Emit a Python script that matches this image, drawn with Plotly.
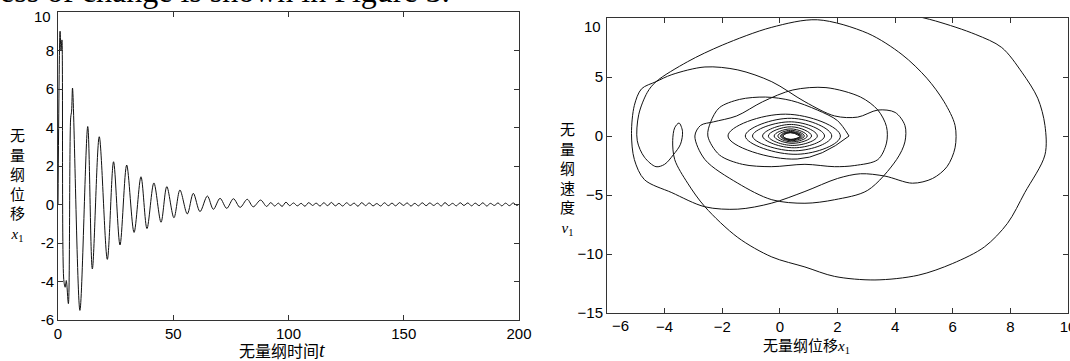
import plotly.graph_objects as go

# ---------------- data: left panel (time series of x1) ----------------
t_head = [0, 0.9, 1.3, 1.7, 2.5, 3.1, 3.6, 4.5, 5.5, 5.9,
          6.3, 9.5, 12.9, 14.9, 17.9, 21.4, 24.1, 26.9, 29.8, 33.0,
          36.0, 38.6, 41.6, 44.7, 47.2, 50.3, 52.9, 56.1, 58.7, 61.6,
          64.8, 67.4, 70.3, 73.2, 76.1, 79.0, 82.1, 84.7, 87.9, 90.5]
x_head = [0, 9.0, 8.0, 8.55, -3.9, -4.3, -3.95, -5.15, 4.5, 4.85,
          6.05, -5.5, 4.05, -3.35, 3.52, -2.85, 2.22, -2.1, 2.05, -1.45,
          1.44, -1.25, 1.12, -0.92, 0.93, -0.69, 0.75, -0.49, 0.58, -0.37,
          0.44, -0.25, 0.32, -0.2, 0.3, -0.15, 0.27, -0.12, 0.23, -0.1]
t_tail = [92.3, 94.0, 95.6, 97.2, 98.9, 100.5, 102.2, 103.8, 105.5, 107.1,
          108.8, 110.4, 112.0, 113.7, 115.3, 117.0, 118.6, 120.3, 121.9, 123.5,
          125.2, 126.8, 128.5, 130.1, 131.8, 133.4, 135.0, 136.7, 138.3, 140.0,
          141.6, 143.3, 144.9, 146.5, 148.2, 149.8, 151.5, 153.1, 154.8, 156.4,
          158.0, 159.7, 161.3, 163.0, 164.6, 166.3, 167.9, 169.5, 171.2, 172.8,
          174.5, 176.1, 177.8, 179.4, 181.0, 182.7, 184.3, 186.0, 187.6, 189.3,
          190.9, 192.5, 194.2, 195.8, 197.5, 199.1, 200.0]
x_tail = [0.10, -0.08, 0.07, -0.10, 0.12, -0.06, 0.08, -0.07, 0.06, -0.09,
          0.10, -0.05, 0.07, -0.08, 0.09, -0.06, 0.11, -0.07, 0.06, -0.08,
          0.09, -0.05, 0.07, -0.09, 0.10, -0.06, 0.08, -0.07, 0.05, -0.08,
          0.09, -0.06, 0.07, -0.07, 0.10, -0.05, 0.08, -0.08, 0.06, -0.07,
          0.09, -0.06, 0.08, -0.05, 0.07, -0.08, 0.10, -0.06, 0.06, -0.07,
          0.09, -0.05, 0.08, -0.07, 0.07, -0.06, 0.09, -0.08, 0.06, -0.05,
          0.08, -0.07, 0.07, -0.06, 0.08, -0.05, 0.02]

left_xticks = [0, 50, 100, 150, 200]
left_yticks = [-6, -4, -2, 0, 2, 4, 6, 8, 10]
left_yticktext = ["-6", "-4", "-2", "0", "2", "4", "6", "8", ""]   # "10" drawn below

# ---------------- data: right panel (phase portrait x1 - v1) ----------------
# large transient orbits
orbit_x = [4.3, 5.4, 6.8, 7.7, 8.4, 8.95, 9.2, 9.2, 8.5, 7.9,
           7.1, 6.0, 4.8, 3.3, 1.9, 0.87, -0.28, -1.46, -2.6, -3.2,
           -3.65, -3.72, -3.65, -3.5, -3.38, -3.45, -3.7, -4.0, -4.3, -4.7,
           -4.95, -4.9, -4.6, -4.3, -3.2, -2.0, -0.3, 1.3, 3.05, 4.24,
           5.1, 5.7, 6.08, 6.08, 5.8, 5.3, 4.6, 3.65, 2.8, 2.0,
           0.87, -0.3, -1.46, -2.6, -3.75, -4.7, -5.05, -5.15, -5.05, -4.8,
           -4.3, -3.75, -2.6, -1.46, -0.28, 0.87, 1.9, 2.7, 3.4, 4.0,
           4.34, 4.34, 4.05, 3.05, 1.9, 0.87, -0.28, -1.46, -2.6, -2.95,
           -2.75, -2.3, -1.5, -0.6, 0.45, 1.6, 2.8, 3.4, 3.7, 3.7,
           3.4, 2.6, 1.9, 0.87, -0.3, -1.3, -2.1, -2.5, -2.4, -2.1,
           -1.4, -0.5, 0.4, 1.3, 2.0, 2.4]
orbit_v = [10.4, 9.75, 8.6, 7.5, 5.4, 3.2, 0.9, -1.6, -4.8, -7.4,
           -9.4, -10.8, -11.8, -12.2, -11.9, -11.1, -10.25, -8.6, -6.0, -4.0,
           -2.0, -0.4, 0.7, 1.1, 0.4, -0.7, -1.6, -2.4, -2.6, -1.8,
           -0.4, 1.8, 3.7, 4.6, 6.3, 7.7, 9.2, 9.85, 8.7, 6.9,
           4.9, 2.9, 0.9, -1.0, -2.6, -3.6, -4.0, -3.4, -3.2, -3.6,
           -4.7, -5.7, -6.2, -6.0, -4.8, -3.7, -2.0, 0.2, 2.6, 4.0,
           4.6, 5.2, 5.85, 5.6, 4.6, 2.9, 1.7, 1.6, 2.2, 2.0,
           0.9, -0.5, -2.0, -4.6, -5.4, -5.7, -5.4, -4.0, -2.0, 0.0,
           0.9, 1.2, 1.7, 2.9, 3.9, 4.1, 3.3, 2.2, 0.8, -0.6,
           -2.0, -2.5, -2.6, -2.4, -2.6, -2.4, -1.6, 0.0, 1.2, 2.4,
           3.1, 3.3, 3.0, 2.2, 1.3, 0.0]
# inner spiral: right, bottom, left, top extremes of each turn
spiral_x = [2.4,
            0.6, -1.8, 0.2, 2.1,
            0.6, -1.2, 0.4, 1.8,
            0.55, -0.95, 0.4, 1.55,
            0.5, -0.6, 0.4, 1.3,
            0.45, -0.4, 0.4, 1.1,
            0.42, -0.2, 0.38, 0.95,
            0.4, -0.07, 0.37, 0.85,
            0.38, 0.02, 0.36, 0.78,
            0.37, 0.06, 0.36, 0.73,
            0.36, 0.1, 0.36, 0.7,
            0.36, 0.12, 0.36, 0.69]
spiral_v = [0.0,
            -1.95, 0.0, 1.85, 0.0,
            -1.55, 0.0, 1.5, 0.0,
            -1.25, 0.0, 1.2, 0.0,
            -1.0, 0.0, 0.98, 0.0,
            -0.8, 0.0, 0.78, 0.0,
            -0.62, 0.0, 0.6, 0.0,
            -0.5, 0.0, 0.48, 0.0,
            -0.4, 0.0, 0.38, 0.0,
            -0.34, 0.0, 0.33, 0.0,
            -0.3, 0.0, 0.29, 0.0,
            -0.28, 0.0, 0.28, 0.0]

right_xticks = [-6, -4, -2, 0, 2, 4, 6, 8, 10]
right_xticktext = ["", "\u22124", "\u22122", "0", "2", "4", "6", "8", "10"]  # "-6" drawn below
right_yticks = [-15, -10, -5, 0, 5, 10]
right_yticktext = ["\u221215", "\u221210", "\u22125", "0", "5", ""]          # "10" drawn below

# ---------------- figure ----------------
W, H = 1070, 361


def fx(p):
    return p / W


def fy(p):
    return 1 - p / H


LINE = dict(color="#111111", width=1, shape="spline", smoothing=0.9)
LINE_SP = dict(color="#111111", width=1, shape="spline", smoothing=1.3)
TICKFONT = dict(family="Liberation Sans, Arial, sans-serif", size=15, color="#000000")
CJK = "Noto Sans CJK SC"
SERIF = "Liberation Serif, Times New Roman, serif"

fig = go.Figure()
fig.add_trace(go.Scatter(x=t_head + t_tail, y=x_head + x_tail, mode="lines",
                         line=LINE, xaxis="x", yaxis="y", showlegend=False,
                         hoverinfo="skip"))
fig.add_trace(go.Scatter(x=orbit_x, y=orbit_v, mode="lines",
                         line=LINE, xaxis="x2", yaxis="y2", showlegend=False,
                         hoverinfo="skip"))
fig.add_trace(go.Scatter(x=spiral_x, y=spiral_v, mode="lines",
                         line=LINE_SP, xaxis="x2", yaxis="y2", showlegend=False,
                         hoverinfo="skip"))

axis_common = dict(showgrid=False, zeroline=False, showline=True, mirror="ticks",
                   linecolor="#333333", linewidth=1, ticks="inside", ticklen=5,
                   tickcolor="#333333", tickfont=TICKFONT, automargin=False,
                   ticklabeloverflow="allow")

fig.update_layout(
    template="none",
    width=W, height=H,
    margin=dict(l=0, r=0, t=0, b=0, pad=0, autoexpand=False),
    paper_bgcolor="white", plot_bgcolor="white",
    xaxis=dict(domain=[fx(58), fx(519)], range=[0, 200], tickvals=left_xticks,
               anchor="y", **axis_common),
    yaxis=dict(domain=[fy(320), fy(12)], range=[-6, 10], tickvals=left_yticks,
               ticktext=left_yticktext, anchor="x", **axis_common),
    xaxis2=dict(domain=[fx(607), fx(1068)], range=[-6, 10], tickvals=right_xticks,
                ticktext=right_xticktext, anchor="y2", **axis_common),
    yaxis2=dict(domain=[fy(313), fy(18)], range=[-15, 10], tickvals=right_yticks,
                ticktext=right_yticktext, anchor="x2", **axis_common),
)

xsub = "<span style=\"font-family:'Liberation Serif'\"><i>x</i><sub>1</sub></span>"
vsub = "<span style=\"font-family:'Liberation Serif'\"><i>v</i><sub>1</sub></span>"
tsym = "<span style=\"font-family:'Liberation Serif';font-size:20px\"><i>t</i></span>"

annotations = [
    dict(text="ess of change is shown in Figure 3.", x=fx(-2), y=fy(-9),
         xanchor="left", yanchor="middle",
         font=dict(family=SERIF, size=32, color="#000000")),
    # edge tick labels placed as in the reference
    dict(text=str(left_yticks[-1]), x=fx(53), y=fy(17), xanchor="right",
         yanchor="middle", font=TICKFONT),
    dict(text=str(right_yticks[-1]), x=fx(603), y=fy(27), xanchor="right",
         yanchor="middle", font=TICKFONT),
    dict(text="\u2212" + str(abs(right_xticks[0])), x=fx(620), y=fy(325),
         xanchor="center", yanchor="middle", font=TICKFONT),
    # axis titles
    dict(text="无<br>量<br>纲<br>位<br>移<br>" + xsub, x=fx(17), y=fy(184),
         xanchor="center", yanchor="middle", align="center",
         font=dict(family=CJK, size=15, color="#000000")),
    dict(text="无量纲时间" + tsym, x=fx(282), y=fy(349.5),
         xanchor="center", yanchor="middle",
         font=dict(family=CJK, size=16, color="#000000")),
    dict(text="无<br>量<br>纲<br>速<br>度<br>" + vsub, x=fx(567), y=fy(178),
         xanchor="center", yanchor="middle", align="center",
         font=dict(family=CJK, size=15, color="#000000")),
    dict(text="无量纲位移" + xsub, x=fx(806), y=fy(345),
         xanchor="center", yanchor="middle",
         font=dict(family=CJK, size=15, color="#000000")),
]
for a in annotations:
    a.update(xref="paper", yref="paper", showarrow=False)
fig.update_layout(annotations=annotations)

fig.write_html("out.html",
               config={"displayModeBar": False},
               post_script="document.body.style.margin='0px';"
                           "document.body.style.overflow='hidden';")
